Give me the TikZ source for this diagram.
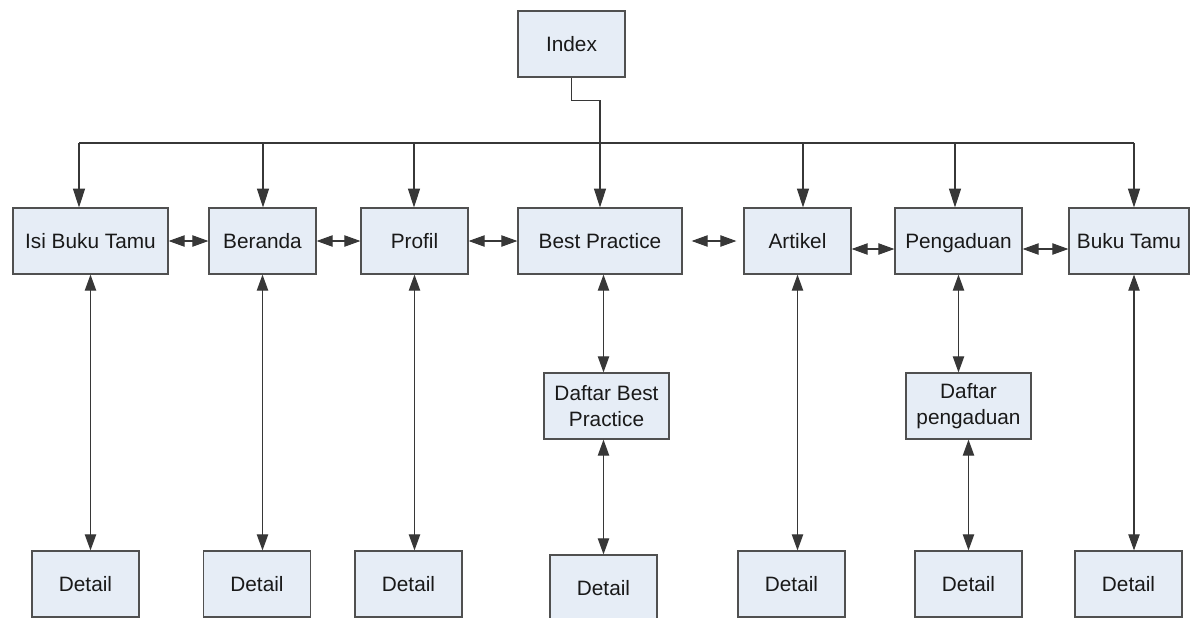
\documentclass[tikz,border=0pt]{standalone}
\usepackage{fontspec}
\setmainfont{Liberation Sans}
\usetikzlibrary{arrows.meta}
\definecolor{boxfill}{RGB}{230,237,246}
\definecolor{boxline}{RGB}{80,80,80}
\definecolor{lineclr}{RGB}{55,55,55}

\begin{document}
\begin{tikzpicture}[x=0.75pt,y=0.75pt,yscale=-1,xscale=1,
  page/.style={draw=boxline,fill=boxfill,line width=0.9pt,minimum height=49.5pt,inner sep=0pt,
    font=\fontsize{15.6}{19.5}\selectfont,align=center,text={rgb,255:red,25;green,25;blue,25}},
  wire/.style={draw=lineclr,line width=0.8pt},
  link/.style={wire,-{Triangle[length=14pt,width=9pt]}},
  both/.style={wire,{Triangle[length=12pt,width=8.5pt]}-{Triangle[length=12pt,width=8.5pt]}}]
  \useasboundingbox (0,0) rectangle (1190,618);

  % Pages
  \node[page,minimum width=80.25pt] (index) at (571.5,44) {Index};
  \node[page,minimum width=116.25pt] (isi) at (90.5,241) {Isi Buku Tamu};
  \node[page,minimum width=80.25pt] (beranda) at (262.5,241) {Beranda};
  \node[page,minimum width=80.25pt] (profil) at (414.5,241) {Profil};
  \node[page,minimum width=123pt] (best) at (600,241) {Best Practice};
  \node[page,minimum width=80.25pt] (artikel) at (797.5,241) {Artikel};
  \node[page,minimum width=95.25pt,text depth=0pt] (pengaduan) at (958.5,241) {Pengaduan};
  \node[page,minimum width=90pt] (bukutamu) at (1129,241) {Buku Tamu};
  \node[page,minimum width=93.75pt] (daftarbp) at (606.5,406) {Daftar Best\\Practice};
  \node[page,minimum width=93.75pt] (daftarpg) at (968.5,406) {Daftar\\pengaduan};

  % Detail pages
  \node[page,minimum width=80.25pt] (det1) at (85.5,584) {Detail};
  \node[page,minimum width=80.25pt] (det2) at (257,584) {Detail};
  \node[page,minimum width=80.25pt] (det3) at (408.5,584) {Detail};
  \node[page,minimum width=80.25pt] (det4) at (603.5,588) {Detail};
  \node[page,minimum width=80.25pt] (det5) at (791.5,584) {Detail};
  \node[page,minimum width=80.25pt] (det6) at (968.5,584) {Detail};
  \node[page,minimum width=80.25pt] (det7) at (1128.5,584) {Detail};

  % Bus taps
  \coordinate (tap1) at (79,143);
  \coordinate (tap2) at (263,143);
  \coordinate (tap3) at (414,143);
  \coordinate (tap5) at (803,143);
  \coordinate (tap6) at (955,143);
  \coordinate (tap7) at (1134,143);
  \coordinate (low) at (0,249);

  % Index to menu
  \draw[link] (index.south) -- ++(0,23) -| (best.north);
  \draw[wire] (tap1) -- (tap7);
  \foreach \t/\n in {1/isi,2/beranda,3/profil,5/artikel,6/pengaduan,7/bukutamu}
    \draw[link] (tap\t) -- (tap\t |- \n.north);

  % Menu links
  \draw[both] (isi.east) -- (beranda.west);
  \draw[both] (beranda.east) -- (profil.west);
  \draw[both] (profil.east) -- (best.west);
  \draw[both,shorten <=6.75pt,shorten >=5.25pt] (best.east) -- (artikel.west);
  \draw[both] (artikel.east |- low) -- (pengaduan.west |- low);
  \draw[both] (pengaduan.east |- low) -- (bukutamu.west |- low);

  % Down to details
  \draw[both] (isi.south) -- (isi.south |- det1.north);
  \draw[both] (beranda.south) -- (beranda.south |- det2.north);
  \draw[both] (profil.south) -- (profil.south |- det3.north);
  \draw[both] (det4.north |- best.south) -- (det4.north |- daftarbp.north);
  \draw[both] (det4.north |- daftarbp.south) -- (det4.north);
  \draw[both] (artikel.south) -- (artikel.south |- det5.north);
  \draw[both] (pengaduan.south) -- (pengaduan.south |- daftarpg.north);
  \draw[both] (daftarpg.south) -- (daftarpg.south |- det6.north);
  \draw[both] (tap7 |- bukutamu.south) -- (tap7 |- det7.north);

\end{tikzpicture}
\end{document}
